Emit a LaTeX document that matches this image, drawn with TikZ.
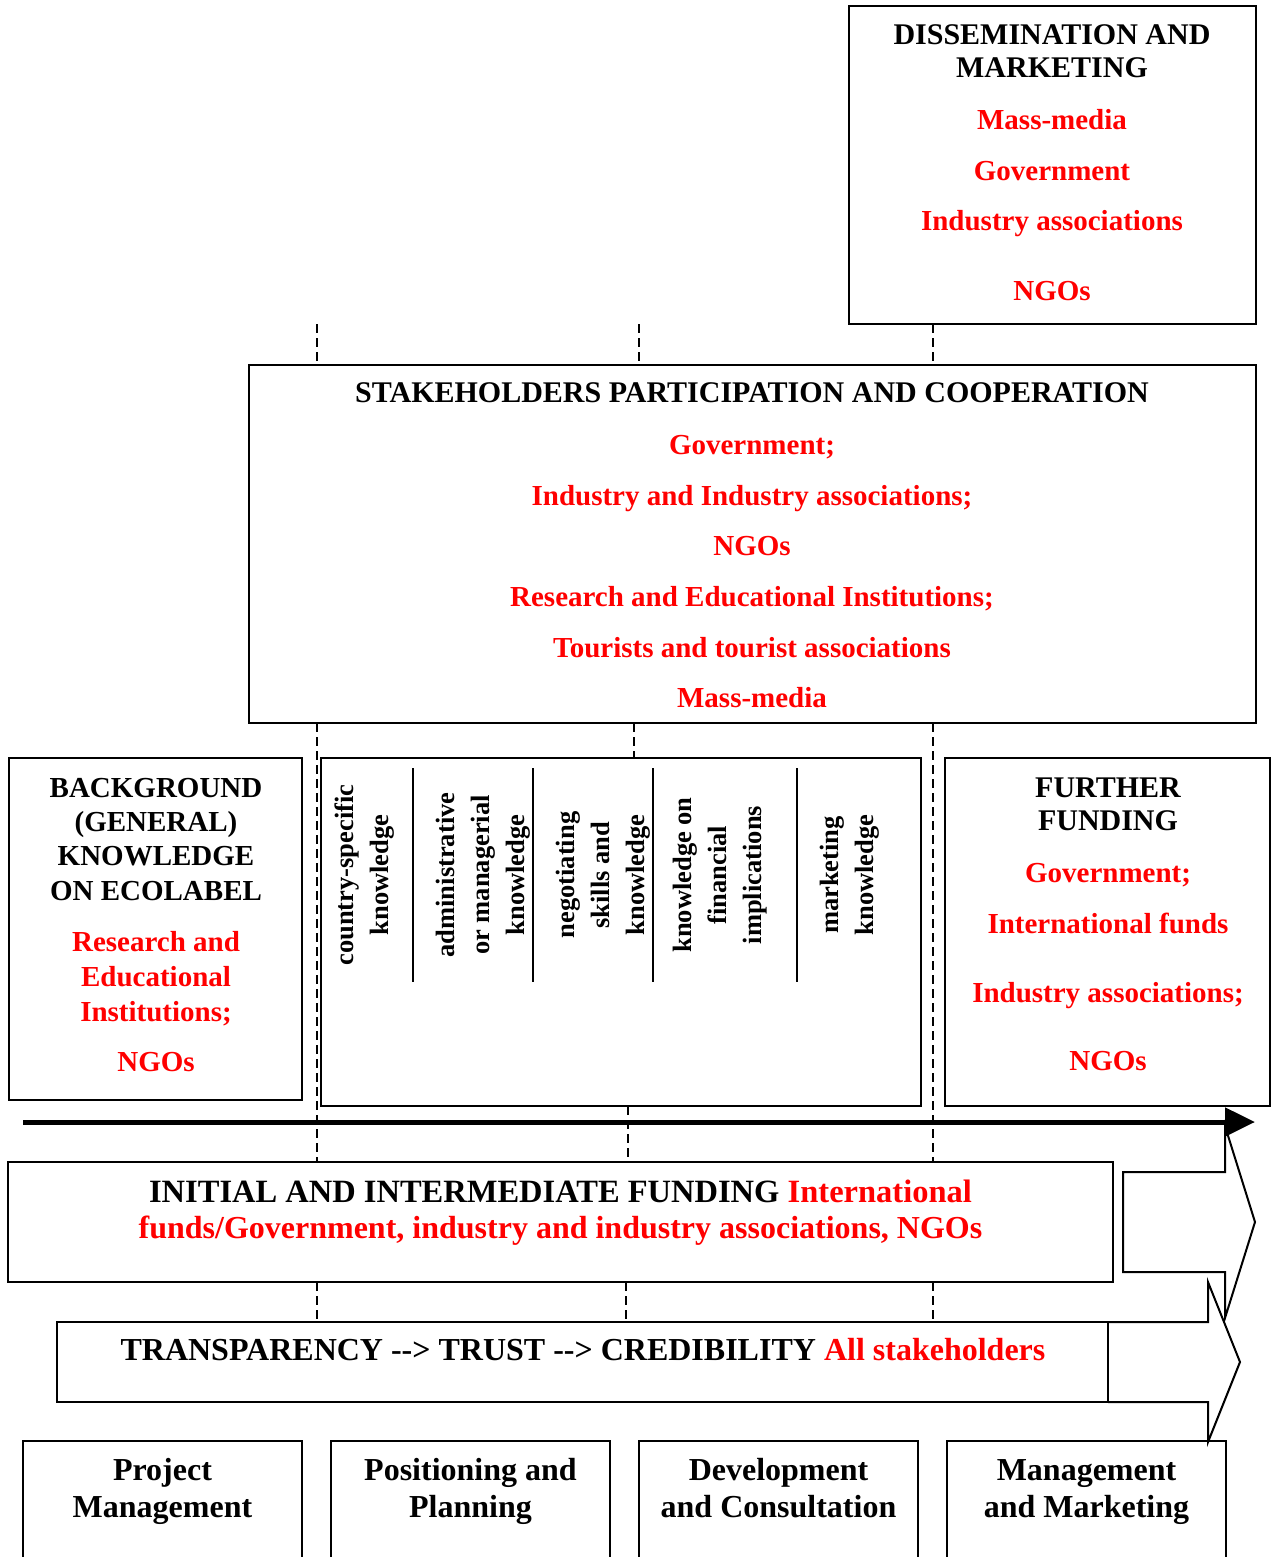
\documentclass[tikz,border=0pt]{standalone}
\usepackage{fontspec}
\setmainfont{Liberation Serif}
\usetikzlibrary{arrows.meta}
% two hyphens and a chevron, kept apart so they do not form a dash ligature
\newcommand\hyarr{\hbox{-}\hbox{-}>}
\begin{document}
\begin{tikzpicture}[x=1pt,y=-1pt,
  box/.style={draw, line width=2pt, inner sep=0pt, outer sep=0pt},
  head/.style={anchor=base, inner sep=0pt, font=\fontsize{30}{34}\selectfont\bfseries},
  item/.style={anchor=base, inner sep=0pt, text=red, font=\fontsize{29}{33}\selectfont\bfseries},
  big/.style={anchor=base, inner sep=0pt, font=\fontsize{32}{36}\selectfont\bfseries},
  vert/.style={rotate=90, align=center, inner sep=0pt, font=\fontsize{26.5}{35}\selectfont\bfseries},
  guide/.style={line width=1.8pt, dash pattern=on 9pt off 5pt},
  sep/.style={line width=2pt},
  timeline/.style={line width=5pt, -{Triangle[length=30pt,width=28pt]}},
  blockarrow/.style={line width=2pt, line join=miter}
]
\useasboundingbox (0,0) rectangle (1272,1557);
\clip (0,0) rectangle (1272,1557);

% ---------- boxes ----------
\node[box, minimum width=407pt,  minimum height=318pt] (dissem)  at (1052.5,165) {};
\node[box, minimum width=1007pt, minimum height=358pt] (stake)   at (752.5,544) {};
\node[box, minimum width=293pt,  minimum height=342pt] (bg)      at (155.5,929) {};
\node[box, minimum width=600pt,  minimum height=348pt] (skills)  at (621,932) {};
\node[box, minimum width=325pt,  minimum height=348pt] (further) at (1107.5,932) {};
\node[box, minimum width=1105pt, minimum height=120pt] (initial) at (560.5,1222) {};
\node[box, minimum width=1051pt, minimum height=80pt]  (transp)  at (582.5,1362) {};
\node[box, minimum width=279pt,  minimum height=159pt] (pm)  at (162.5,1520.5) {};
\node[box, minimum width=279pt,  minimum height=159pt] (pp)  at (470.5,1520.5) {};
\node[box, minimum width=279pt,  minimum height=159pt] (dc)  at (778.5,1520.5) {};
\node[box, minimum width=279pt,  minimum height=159pt] (mmk) at (1086.5,1520.5) {};

% ---------- dissemination ----------
\node[head] (dissemA) at (1052,45) {DISSEMINATION AND};
\node[head] (dissemB) at (1052,78) {MARKETING};
\node[item] (dissem1) at (1052,130) {Mass-media};
\node[item] (dissem2) at (1052,181) {Government};
\node[item] (dissem3) at (1052,230) {Industry associations};
\node[item] (dissem4) at (1052,300) {NGOs};

% ---------- stakeholders ----------
\node[head] (stakeA) at (752,402) {STAKEHOLDERS PARTICIPATION AND COOPERATION};
\node[item] (stake1) at (752,454) {Government;};
\node[item] (stake2) at (752,505) {Industry and Industry associations;};
\node[item] (stake3) at (752,555) {NGOs};
\node[item] (stake4) at (752,606) {Research and Educational Institutions;};
\node[item] (stake5) at (752,657) {Tourists and tourist associations};
\node[item] (stake6) at (752,707) {Mass-media};

% ---------- background knowledge ----------
\node[head, font=\fontsize{29}{33}\selectfont\bfseries] (bgA) at (156,797) {BACKGROUND};
\node[head, font=\fontsize{29}{33}\selectfont\bfseries] (bgB) at (156,831) {(GENERAL)};
\node[head, font=\fontsize{29}{33}\selectfont\bfseries] (bgC) at (156,865) {KNOWLEDGE};
\node[head, font=\fontsize{29}{33}\selectfont\bfseries] (bgD) at (156,900) {ON ECOLABEL};
\node[item] (bg1) at (156,951) {Research and};
\node[item] (bg2) at (156,986) {Educational};
\node[item] (bg3) at (156,1021) {Institutions;};
\node[item] (bg4) at (156,1071) {NGOs};

% ---------- skills columns ----------
\node[vert] (sk1) at (365,875) {country-specific\\knowledge};
\node[vert] (sk2) at (483,875) {administrative\\or managerial\\knowledge};
\node[vert] (sk3) at (603,875) {negotiating\\skills and\\knowledge};
\node[vert] (sk4) at (720,875) {knowledge on\\financial\\implications};
\node[vert] (sk5) at (850,875) {marketing\\knowledge};
\foreach \sx in {413,533,653,797}
  \draw[sep] (\sx,768) -- (\sx,982);

% ---------- further funding ----------
\node[head] (furA) at (1108,797) {FURTHER};
\node[head] (furB) at (1108,830) {FUNDING};
\node[item] (fur1) at (1108,882) {Government;};
\node[item] (fur2) at (1108,933) {International funds};
\node[item] (fur3) at (1108,1002) {Industry associations;};
\node[item] (fur4) at (1108,1070) {NGOs};

% ---------- funding and transparency bands ----------
\node[big, font=\fontsize{32.5}{36}\selectfont\bfseries] (iniA) at (560.5,1202) {INITIAL AND INTERMEDIATE FUNDING \textcolor{red}{International}};
\node[big, text=red] (iniB) at (560.5,1238) {funds/Government, industry and industry associations, NGOs};
\node[big] (trA) at (583,1360) {TRANSPARENCY \hyarr{} TRUST \hyarr{} CREDIBILITY \textcolor{red}{All stakeholders}};

% ---------- phases ----------
\node[big] (pmA)  at (162.5,1480) {Project};
\node[big] (pmB)  at (162.5,1517) {Management};
\node[big] (ppA)  at (470.5,1480) {Positioning and};
\node[big] (ppB)  at (470.5,1517) {Planning};
\node[big] (dcA)  at (778.5,1480) {Development};
\node[big] (dcB)  at (778.5,1517) {and Consultation};
\node[big] (mmkA) at (1086.5,1480) {Management};
\node[big] (mmkB) at (1086.5,1517) {and Marketing};

% ---------- dashed phase guides ----------
\coordinate (ga) at (317,0);
\coordinate (gb1) at (639,0);
\coordinate (gb2) at (634,0);
\coordinate (gb3) at (628,0);
\coordinate (gb4) at (626,0);
\coordinate (gc) at (933,0);
\draw[guide] (ga |- dissem.south) -- (ga |- stake.north);
\draw[guide] (ga |- stake.south) -- (ga |- initial.north);
\draw[guide] (ga |- initial.south) -- (ga |- transp.north);
\draw[guide] (gb1 |- dissem.south) -- (gb1 |- stake.north);
\draw[guide] (gb2 |- stake.south) -- (gb2 |- skills.north);
\draw[guide] (gb3 |- skills.south) -- (gb3 |- initial.north);
\draw[guide] (gb4 |- initial.south) -- (gb4 |- transp.north);
\draw[guide] (dissem.south -| gc) -- (stake.north -| gc);
\draw[guide] (gc |- stake.south) -- (gc |- initial.north);
\draw[guide] (gc |- initial.south) -- (gc |- transp.north);

% ---------- time line ----------
\coordinate (tl0) at (23,1122);
\coordinate (tl1) at (1255,1122);
\draw[timeline] (tl0) -- (tl1);

% ---------- block arrows ----------
\draw[blockarrow] (1123,1172) -- (1225,1172) -- (1225,1126) -- (1255,1222)
  -- (1225,1318) -- (1225,1272) -- (1123,1272) -- cycle;
\draw[blockarrow] (transp.north east) -- (1208,1322) -- (1208,1282) -- (1240,1362)
  -- (1208,1442) -- (1208,1402) -- (transp.south east);
\end{tikzpicture}
\end{document}
